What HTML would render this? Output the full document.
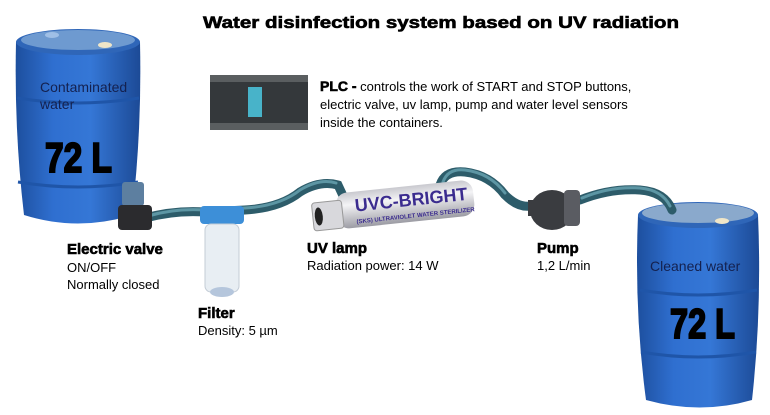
<!DOCTYPE html>
<html><head><meta charset="utf-8"><style>
html,body{margin:0;padding:0;background:#fff;}
svg{display:block;font-family:"Liberation Sans",Arial,sans-serif;}
.bb{font-weight:bold;stroke:#000;stroke-width:0.6;}
</style></head><body>
<svg width="770" height="415" viewBox="0 0 770 415" xmlns="http://www.w3.org/2000/svg">
<defs>
<linearGradient id="bar" x1="0" x2="1" y1="0" y2="0">
<stop offset="0" stop-color="#1d4f9e"/><stop offset="0.3" stop-color="#2f6fd0"/><stop offset="0.6" stop-color="#3577d6"/><stop offset="1" stop-color="#1c4a96"/>
</linearGradient>
<linearGradient id="steel" x1="0" x2="0" y1="0" y2="1">
<stop offset="0" stop-color="#c9c9cf"/><stop offset="0.35" stop-color="#f4f4f6"/><stop offset="1" stop-color="#9c9ca4"/>
</linearGradient>
</defs>
<text x="203" y="28" font-size="17" class="bb" textLength="476" lengthAdjust="spacingAndGlyphs">Water disinfection system based on UV radiation</text>

<!-- barrel 1 -->
<path d="M16,42 Q14,130 24,215 Q78,232 132,215 Q142,130 140,42 Z" fill="url(#bar)"/>
<ellipse cx="78" cy="42" rx="62" ry="13" fill="#2f66b8"/>
<ellipse cx="78" cy="40" rx="57" ry="10" fill="#6e9ad0"/>
<ellipse cx="52" cy="35" rx="7" ry="3" fill="#9fbfe6"/>
<ellipse cx="105" cy="45" rx="7" ry="3" fill="#f0e6c8"/>
<path d="M17,98 Q78,108 139,98" stroke="#1f55a8" stroke-width="3" fill="none"/>
<path d="M18,182 Q78,192 138,182" stroke="#1f55a8" stroke-width="3" fill="none"/>
<text x="40" y="92" font-size="14" fill="#14214f">Contaminated</text>
<text x="40" y="109" font-size="14" fill="#14214f">water</text>
<text x="45" y="172" font-size="42" font-weight="bold" fill="#000" stroke="#000" stroke-width="2" textLength="67" lengthAdjust="spacingAndGlyphs">72 L</text>

<!-- barrel 2 -->
<path d="M638,215 Q634,310 646,400 Q700,415 752,400 Q762,310 758,215 Z" fill="url(#bar)"/>
<ellipse cx="698" cy="215" rx="60" ry="13" fill="#2f66b8"/>
<ellipse cx="698" cy="213" rx="56" ry="10" fill="#8aa9cc"/>
<ellipse cx="722" cy="221" rx="7" ry="3" fill="#f0e6c8"/>
<path d="M640,290 Q698,300 757,290" stroke="#1f55a8" stroke-width="3" fill="none"/>
<path d="M641,352 Q698,362 756,352" stroke="#1f55a8" stroke-width="3" fill="none"/>
<text x="650" y="271" font-size="14" fill="#14214f">Cleaned water</text>
<text x="670" y="338" font-size="42" font-weight="bold" fill="#000" stroke="#000" stroke-width="2" textLength="65" lengthAdjust="spacingAndGlyphs">72 L</text>

<!-- hoses -->
<g fill="none" stroke="#2d5c6a" stroke-width="9" stroke-linecap="round">
<path d="M145,218 Q175,210 205,212 L245,210 Q280,208 300,192 Q320,180 338,185 L345,200"/>
<path d="M440,185 Q445,170 465,172 Q490,175 505,195 Q520,210 535,205"/>
<path d="M580,200 Q610,188 640,190 Q665,192 672,210"/>
</g>
<g fill="none" stroke="#5d96a4" stroke-width="3" stroke-linecap="round">
<path d="M148,216 Q175,208 205,210 L245,208 Q280,206 300,190 Q320,178 336,183"/>
<path d="M443,182 Q448,168 465,170 Q490,173 505,193"/>
<path d="M582,198 Q610,186 640,188 Q662,190 670,206"/>
</g>

<!-- valve -->
<rect x="122" y="182" width="22" height="24" rx="3" fill="#5d7fa0"/>
<rect x="118" y="205" width="34" height="25" rx="4" fill="#2b2b2e"/>

<!-- filter -->
<rect x="200" y="206" width="44" height="18" rx="4" fill="#3d8fd8"/>
<rect x="205" y="224" width="34" height="68" rx="6" fill="#e8eef3" stroke="#c3ccd6"/>
<ellipse cx="222" cy="292" rx="12" ry="5" fill="#b5c6dc"/>

<!-- UV lamp -->
<g transform="rotate(-6 390 205)">
<rect x="336" y="188" width="138" height="36" rx="12" fill="url(#steel)"/>
<rect x="312" y="195" width="30" height="28" rx="3" fill="#d8d8dc" stroke="#999"/>
<ellipse cx="318" cy="209" rx="4" ry="9" fill="#222"/>
<text x="355" y="208" font-size="18" font-weight="bold" fill="#3b2c8f">UVC-BRIGHT</text>
<text x="355" y="220" font-size="6" font-weight="bold" fill="#3b2c8f">(SKS) ULTRAVIOLET WATER STERILIZER</text>
</g>

<!-- pump -->
<ellipse cx="552" cy="210" rx="22" ry="20" fill="#3a3c40"/>
<rect x="564" y="190" width="16" height="36" rx="4" fill="#5a5c62"/>
<rect x="528" y="200" width="12" height="16" fill="#3a3c40"/>

<!-- PLC -->
<rect x="210" y="75" width="98" height="55" fill="#34383b"/>
<rect x="210" y="75" width="98" height="7" fill="#5a5e60"/>
<rect x="210" y="123" width="98" height="7" fill="#5a5e60"/>
<rect x="248" y="87" width="14" height="30" fill="#48b3c9"/>

<text x="320" y="91" font-size="13" fill="#000"><tspan class="bb" font-size="14">PLC -</tspan> controls the work of START and STOP buttons,</text>
<text x="320" y="109" font-size="13" fill="#000">electric valve, uv lamp, pump and water level sensors</text>
<text x="320" y="127" font-size="13" fill="#000">inside the containers.</text>

<text x="67" y="254" font-size="15" class="bb">Electric valve</text>
<text x="67" y="272" font-size="13">ON/OFF</text>
<text x="67" y="289" font-size="13">Normally closed</text>
<text x="198" y="318" font-size="15" class="bb">Filter</text>
<text x="198" y="335" font-size="13">Density: 5 µm</text>
<text x="307" y="253" font-size="15" class="bb">UV lamp</text>
<text x="307" y="270" font-size="13">Radiation power: 14 W</text>
<text x="537" y="253" font-size="15" class="bb">Pump</text>
<text x="537" y="270" font-size="13">1,2 L/min</text>
</svg>
</body></html>
